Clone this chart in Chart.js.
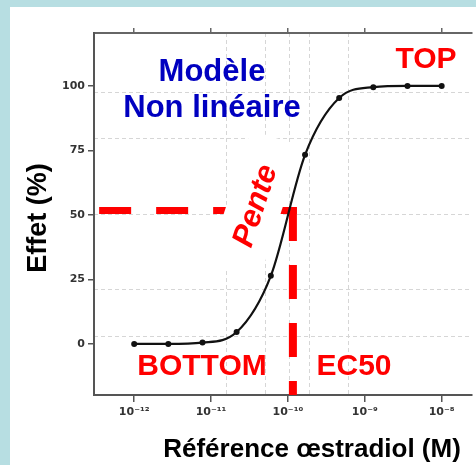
<!DOCTYPE html>
<html>
<head>
<meta charset="utf-8">
<script src="https://cdn.jsdelivr.net/npm/chart.js@4.4.1/dist/chart.umd.min.js"></script>
<style>
body { margin: 0; background: #b7dee2; overflow: hidden; }
canvas { display: block; }
</style>
</head>
<body>
<canvas id="c21" width="476" height="465"></canvas>
<script>
// courbe dose-reponse, reference oestradiol
var conc = [1e-12, 2.78e-12, 7.74e-12, 2.15e-11, 5.99e-11, 1.67e-10, 4.64e-10, 1.29e-9, 3.59e-9, 1e-8];
var effet = [0, 0, 0.5, 4.6, 26.4, 73.3, 95.3, 99.5, 100, 100];

var xTicks = [1e-12, 1e-11, 1e-10, 1e-9, 1e-8];
var xTickLabels = ['10⁻¹²', '10⁻¹¹', '10⁻¹⁰', '10⁻⁹', '10⁻⁸'];
var yTicks = [0, 25, 50, 75, 100];

// faint dashed grid of the original plot
var xGrid = [1.58e-11, 5.1e-11, 1.06e-10, 1.9e-10, 6.2e-10];
var yGrid = [3, 21, 50, 79.5, 97.3];

// EC50 guide lines
var ec50 = 1.16e-10;
var halfEffet = 51.7;
var guideStart = 3.5e-13;
var guideEnd = 1.30e-10;
var guideTop = 53.1;

var xMin = 3.38e-13, xMax = 2.48e-8;
var yMin = -19.8, yMax = 120.5;

var font = "'Liberation Sans', Arial, sans-serif";

var points = [];
for (var i = 0; i < conc.length; i++) {
  points.push({x: conc[i], y: effet[i]});
}

function fixTicks(list) {
  return function(scale) {
    scale.ticks = list.map(function(v) { return {value: v}; });
  };
}
function fixSize(size) {
  return function(scale) {
    if (scale.isHorizontal()) scale.height = size; else scale.width = size;
  };
}

var notes = {
  id: 'notes',
  beforeDraw: function(chart) {
    var c = chart.ctx;
    c.save();
    c.fillStyle = '#b7dee2';
    c.fillRect(0, 0, chart.width, chart.height);
    c.fillStyle = '#ffffff';
    c.fillRect(10, 7, chart.width - 10, chart.height - 7);
    c.restore();
  },
  beforeDatasetDraw: function(chart, args) {
    if (args.index !== 0) return;
    // white band under the "Pente" label
    var c = chart.ctx;
    c.save();
    c.translate(255, 205);
    c.rotate(-72 * Math.PI / 180);
    c.fillStyle = '#ffffff';
    c.fillRect(-70, -27, 140, 54);
    c.restore();
  },
  afterDatasetsDraw: function(chart) {
    var c = chart.ctx;
    c.save();
    c.textAlign = 'center';
    c.textBaseline = 'alphabetic';

    c.fillStyle = '#0000c0';
    c.font = 'bold 31px ' + font;
    c.fillText('Modèle', 212, 81);
    c.fillText('Non linéaire', 212, 117);

    c.fillStyle = '#ff0000';
    c.font = 'bold 30px ' + font;
    c.fillText('TOP', 426, 68);
    c.fillText('BOTTOM', 202, 375);
    c.fillText('EC50', 354, 375);

    c.save();
    c.translate(256, 206);
    c.rotate(-72 * Math.PI / 180);
    c.textBaseline = 'middle';
    c.font = 'italic bold 31px ' + font;
    c.fillText('Pente', 0, 0);
    c.restore();

    c.fillStyle = '#000000';
    c.font = 'bold 26px ' + font;
    c.fillText('Référence œstradiol (M)', 312, 457);

    c.save();
    c.translate(46, 218);
    c.rotate(-Math.PI / 2);
    c.font = 'bold 27px ' + font;
    c.fillText('Effet (%)', 0, 0);
    c.restore();

    c.restore();
  }
};

var ctx = document.getElementById('c21').getContext('2d');
var chart1 = new Chart(ctx, {
  type: 'line',
  data: {
    datasets: [{
      data: points,
      borderColor: '#111111',
      backgroundColor: '#111111',
      borderWidth: 2.2,
      pointRadius: 3,
      pointBorderWidth: 0,
      cubicInterpolationMode: 'monotone'
    }, {
      data: [{x: guideStart, y: halfEffet}, {x: guideEnd, y: halfEffet}],
      borderColor: '#ff0000',
      borderWidth: 7,
      borderDash: [32, 25],
      pointRadius: 0
    }, {
      data: [{x: ec50, y: guideTop}, {x: ec50, y: yMin}],
      borderColor: '#ff0000',
      borderWidth: 8,
      borderDash: [34, 24],
      pointRadius: 0
    }]
  },
  options: {
    responsive: false,
    animation: false,
    layout: {padding: 0},
    plugins: {legend: {display: false}, tooltip: {enabled: false}},
    scales: {
      x: {
        type: 'logarithmic', position: 'bottom', min: xMin, max: xMax,
        afterBuildTicks: fixTicks(xTicks),
        afterFit: fixSize(70),
        grid: {drawOnChartArea: false, tickLength: 7, color: '#555', lineWidth: 1.5},
        border: {display: true, color: '#555', width: 2},
        ticks: {
          padding: 4, maxRotation: 0, autoSkip: false, color: '#333',
          font: {family: 'DejaVu Sans', size: 11, weight: 'bold'},
          callback: function(v, i) { return xTickLabels[i]; }
        }
      },
      xTop: {
        type: 'logarithmic', position: 'top', min: xMin, max: xMax,
        afterBuildTicks: fixTicks(xTicks),
        afterFit: fixSize(33),
        grid: {drawOnChartArea: false, tickLength: 5, color: '#666', lineWidth: 1.5},
        border: {display: true, color: '#666', width: 2},
        ticks: {display: false}
      },
      xg: {
        type: 'logarithmic', position: 'bottom', min: xMin, max: xMax,
        afterBuildTicks: fixTicks(xGrid),
        afterFit: fixSize(0),
        grid: {drawTicks: false, color: '#d6d6d6', lineWidth: 1},
        border: {display: false, dash: [4, 3]},
        ticks: {display: false}
      },
      y: {
        type: 'linear', position: 'left', min: yMin, max: yMax,
        afterBuildTicks: fixTicks(yTicks),
        afterFit: fixSize(94),
        grid: {drawOnChartArea: false, tickLength: 6, color: '#555', lineWidth: 1.5},
        border: {display: true, color: '#555', width: 2},
        ticks: {
          padding: 3, color: '#333',
          font: {family: 'DejaVu Sans', size: 11, weight: 'bold'}
        }
      },
      yg: {
        type: 'linear', position: 'left', min: yMin, max: yMax,
        afterBuildTicks: fixTicks(yGrid),
        afterFit: fixSize(0),
        grid: {drawTicks: false, color: '#d6d6d6', lineWidth: 1},
        border: {display: false, dash: [4, 3]},
        ticks: {display: false}
      }
    }
  },
  plugins: [notes]
});
</script>
</body>
</html>
